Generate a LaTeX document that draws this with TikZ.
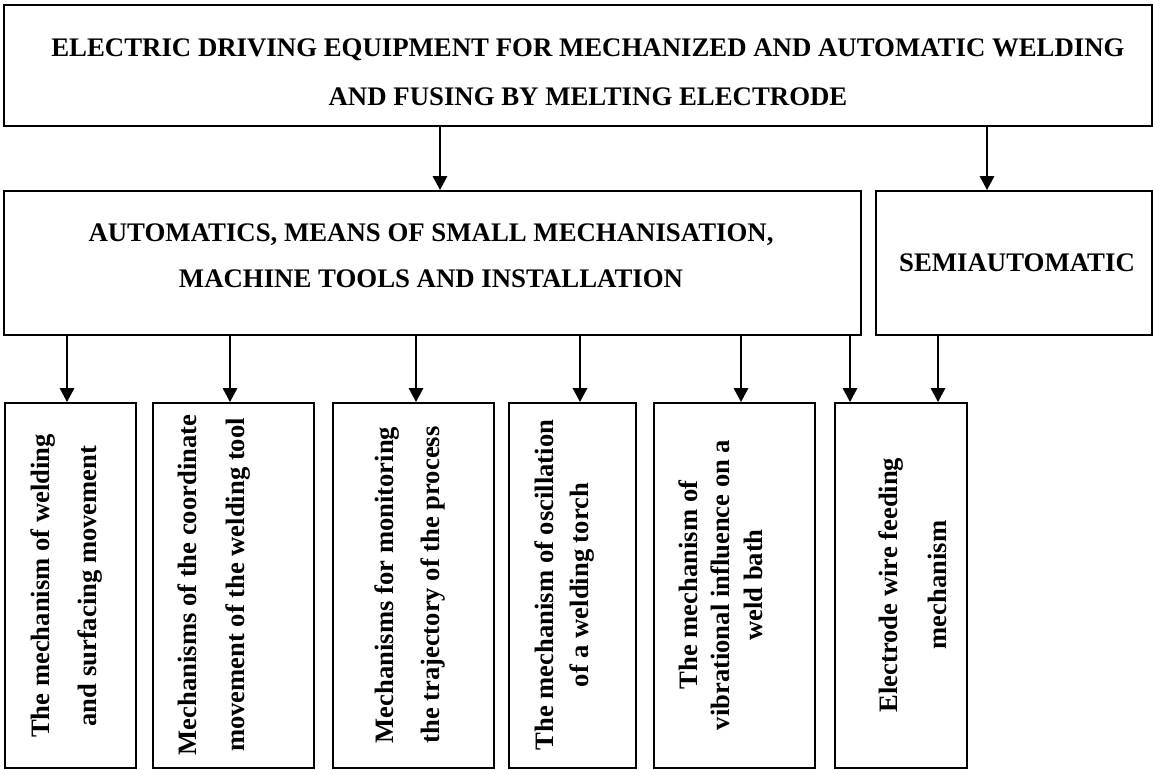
\documentclass[tikz,border=0pt]{standalone}
\usepackage{fontspec}
\setmainfont{Liberation Serif}
\usetikzlibrary{arrows.meta}
\tikzset{
  box/.style={draw, line width=2pt, inner sep=0pt, anchor=north west, fill=white},
  lbl/.style={inner sep=0pt, align=center, font=\bfseries},
  vlbl/.style={lbl, rotate=90},
  arr/.style={line width=1.8pt, -{Triangle[length=14pt,width=14.5pt]}},
}
\newcommand{\fsz}[1]{\fontsize{26.8}{#1}\selectfont}
\newcommand{\vfsz}[1]{\fontsize{26.6}{#1}\selectfont}
\begin{document}
\begin{tikzpicture}[x=1pt,y=-1pt]
\useasboundingbox (0,0) rectangle (1153,769);
% boxes
\node[box, minimum width=1148pt, minimum height=121pt] (top) at (3,4) {};
\node[box, minimum width=857pt, minimum height=144pt] (auto) at (3,190) {};
\node[box, minimum width=276pt, minimum height=144pt] (semi) at (875,190) {};
\node[box, minimum width=131pt, minimum height=365pt] (b1) at (4,402) {};
\node[box, minimum width=161pt, minimum height=365pt] (b2) at (152,402) {};
\node[box, minimum width=161pt, minimum height=365pt] (b3) at (332,402) {};
\node[box, minimum width=127pt, minimum height=365pt] (b4) at (508,402) {};
\node[box, minimum width=161pt, minimum height=365pt] (b5) at (653,402) {};
\node[box, minimum width=132pt, minimum height=365pt] (b6) at (834,402) {};
% texts
\node[lbl, font=\fsz{49}\bfseries] (toptxt) at (588,72.5) {ELECTRIC DRIVING EQUIPMENT FOR MECHANIZED AND AUTOMATIC WELDING\\AND FUSING BY MELTING ELECTRODE};
\node[lbl, font=\fsz{46}\bfseries] (autotxt) at (431,256) {AUTOMATICS, MEANS OF SMALL MECHANISATION,\\MACHINE TOOLS AND INSTALLATION};
\node[lbl, font=\fsz{46}\bfseries] (semitxt) at (1017,263) {SEMIAUTOMATIC};
\node[vlbl, font=\vfsz{47}\bfseries] (b1t) at (66.5,586) {The mechanism of welding\\and surfacing movement};
\node[vlbl, font=\vfsz{48}\bfseries] (b2t) at (214,585) {Mechanisms of the coordinate\\movement of the welding tool};
\node[vlbl, font=\vfsz{46}\bfseries] (b3t) at (410,585) {Mechanisms for monitoring\\the trajectory of the process};
\node[vlbl, font=\vfsz{35}\bfseries] (b4t) at (564.5,585) {The mechanism of oscillation\\of a welding torch};
\node[vlbl, font=\vfsz{32.5}\bfseries] (b5t) at (720.5,585) {The mechanism of\\vibrational influence on a\\weld bath};
\node[vlbl, font=\vfsz{49}\bfseries] (b6t) at (912.5,585) {Electrode wire feeding\\mechanism};
% arrow x positions
\coordinate (xa) at (440,0);
\coordinate (xs) at (987,0);
\coordinate (x1) at (67,0);
\coordinate (x2) at (230,0);
\coordinate (x3) at (416,0);
\coordinate (x4) at (580,0);
\coordinate (x5) at (741,0);
\coordinate (x6) at (850,0);
\coordinate (x7) at (938,0);
% connectors
\draw[arr] (top.south -| xa) -- (auto.north -| xa);
\draw[arr] (top.south -| xs) -- (semi.north -| xs);
\draw[arr] (auto.south -| x1) -- (b1.north -| x1);
\draw[arr] (auto.south -| x2) -- (b2.north -| x2);
\draw[arr] (auto.south -| x3) -- (b3.north -| x3);
\draw[arr] (auto.south -| x4) -- (b4.north -| x4);
\draw[arr] (auto.south -| x5) -- (b5.north -| x5);
\draw[arr] (auto.south -| x6) -- (b6.north -| x6);
\draw[arr] (semi.south -| x7) -- (b6.north -| x7);
\end{tikzpicture}
\end{document}
